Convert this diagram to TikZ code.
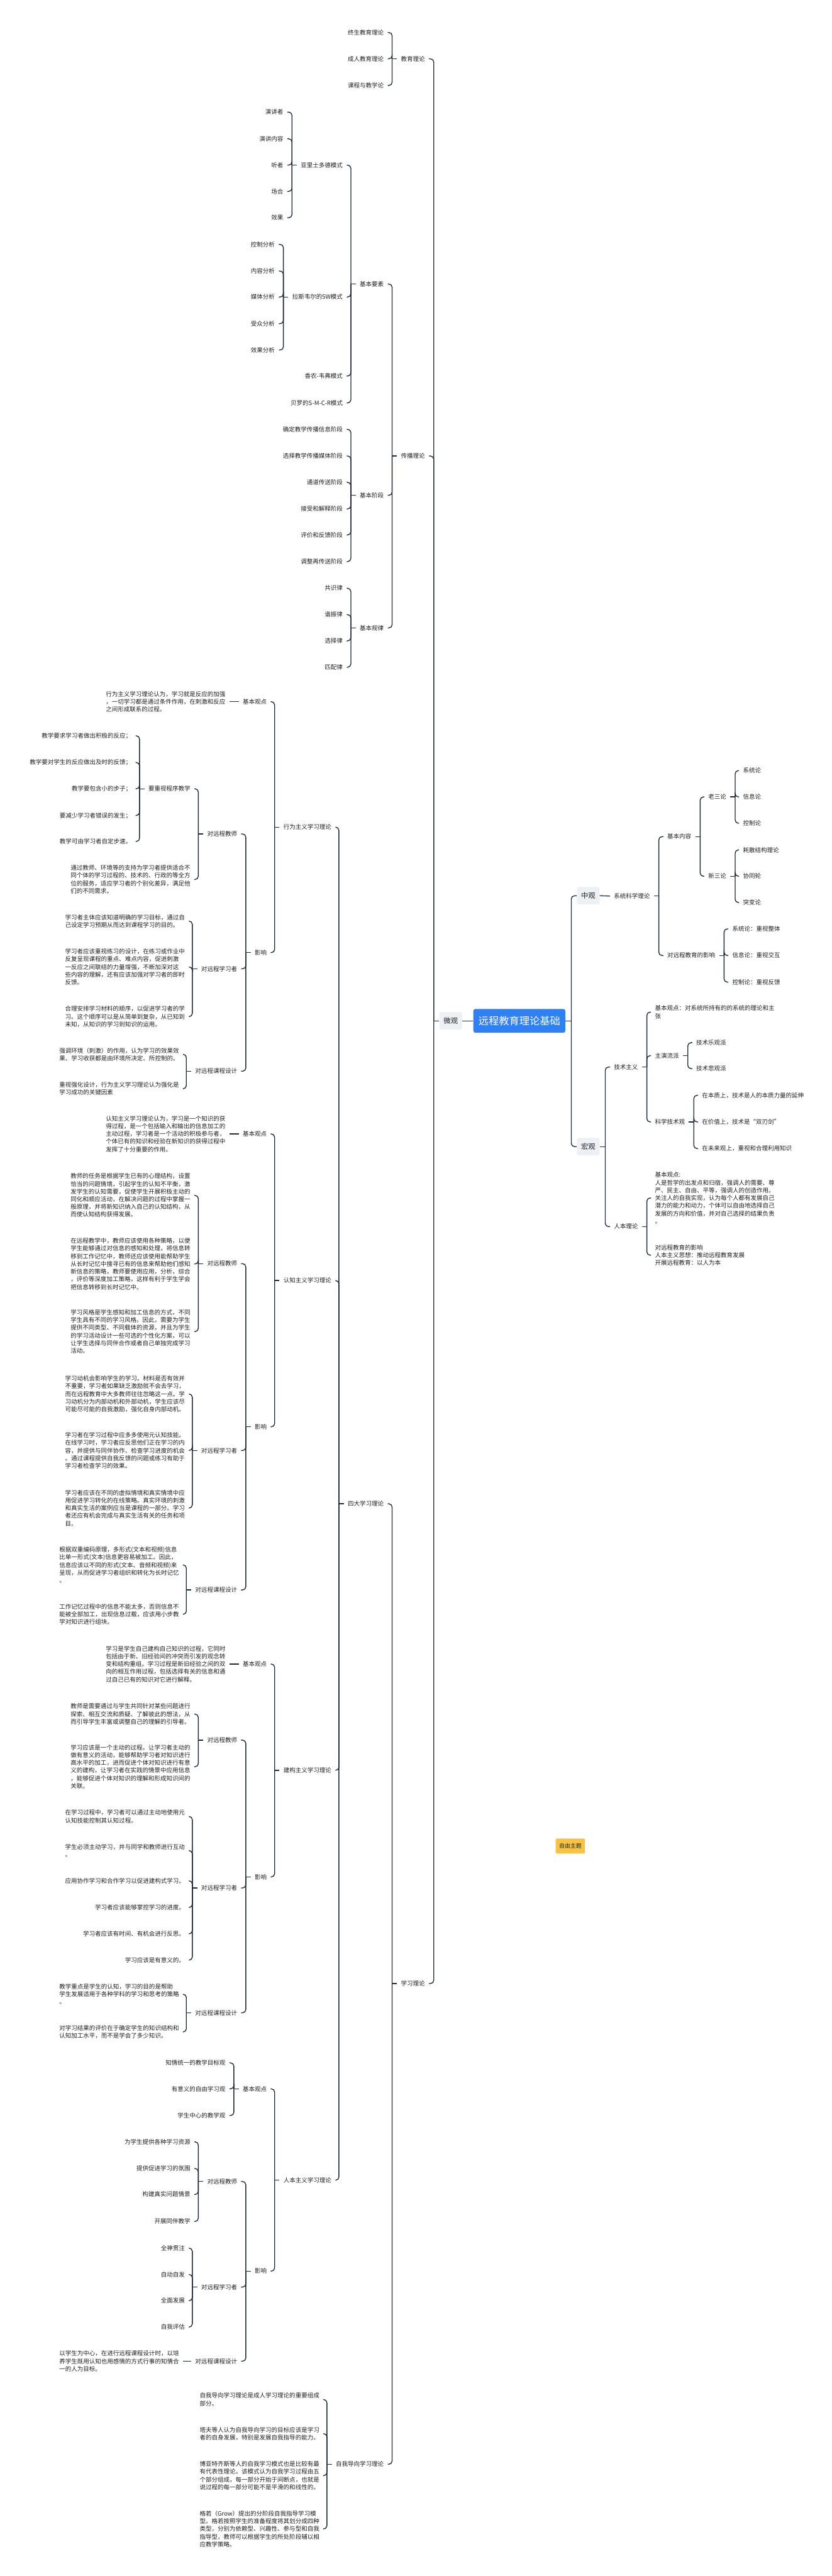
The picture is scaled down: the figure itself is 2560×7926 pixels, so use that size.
\documentclass[tikz,border=0pt]{standalone}
\usepackage{fontspec}
\setmainfont{Noto Sans CJK SC}
\usepackage{tikz}
\usetikzlibrary{positioning}
\definecolor{ink}{HTML}{1F1F1F}
\definecolor{linecol}{HTML}{1E2B3C}
\definecolor{boxgray}{HTML}{EDF0F4}
\definecolor{rootblue}{HTML}{2F80F5}
\definecolor{freeyellow}{HTML}{F6C343}

\begin{document}
\begin{tikzpicture}[x=0.5pt, y=-0.5pt]
\tikzstyle{txt} = [inner xsep=6pt, inner ysep=0pt, text=ink, font=\fontsize{9.2}{11.85}\selectfont]
\tikzstyle{leaf} = [txt, text height=8pt, text depth=1pt]
\tikzstyle{para} = [txt, align=left]
\tikzstyle{box} = [fill=boxgray, rounded corners=3pt, text=ink, font=\fontsize{11}{13}\selectfont, minimum width=35pt, minimum height=27pt, inner sep=0pt]
\tikzstyle{root} = [fill=rootblue, rounded corners=3pt, text=white, font=\fontsize{15.7}{18}\selectfont, minimum width=141.5pt, minimum height=36.5pt, inner sep=0pt]
\tikzstyle{free} = [fill=freeyellow, rounded corners=2pt, text=ink, font=\fontsize{8.6}{10}\selectfont, minimum width=45pt, minimum height=23pt, inner sep=0pt]
\tikzstyle{link} = [draw=linecol, line width=1.3pt, rounded corners=5pt]

\fill[white] (0,0) rectangle (2560,7926);

% centre
\node[root] (root) at (1598,3141) {远程教育理论基础};
\node[box] (mid) at (1387,3141) {微观};
\node[box] (zhong) at (1810,2756) {中观};
\node[box] (hong) at (1810,3528) {宏观};
\node[free] (ft) at (1755,5680) {自由主题};

% ---- left: 微观
\node[leaf, anchor=east] (jy) at (1320,181) {教育理论};
\node[leaf, anchor=east] (cb) at (1320,1403) {传播理论};
\node[leaf, anchor=east] (xl) at (1320,6103) {学习理论};

\node[leaf, anchor=east] (jy1) at (1193,100) {终生教育理论};
\node[leaf, anchor=east] (jy2) at (1193,181) {成人教育理论};
\node[leaf, anchor=east] (jy3) at (1193,263) {课程与教学论};

\node[leaf, anchor=east] (ys) at (1193,874) {基本要素};
\node[leaf, anchor=east] (jd) at (1193,1524) {基本阶段};
\node[leaf, anchor=east] (gl) at (1193,1932) {基本规律};

\node[leaf, anchor=east] (ys1) at (1067,508) {亚里士多德模式};
\node[leaf, anchor=east] (ys2) at (1067,914) {拉斯韦尔的5W模式};
\node[leaf, anchor=east] (ys3) at (1067,1157) {香农-韦弗模式};
\node[leaf, anchor=east] (ys4) at (1067,1240) {贝罗的S-M-C-R模式};

\node[leaf, anchor=east] (ar1) at (884,345) {演讲者};
\node[leaf, anchor=east] (ar2) at (884,427) {演讲内容};
\node[leaf, anchor=east] (ar3) at (884,508) {听者};
\node[leaf, anchor=east] (ar4) at (884,589) {场合};
\node[leaf, anchor=east] (ar5) at (884,670) {效果};

\node[leaf, anchor=east] (sw1) at (858,752) {控制分析};
\node[leaf, anchor=east] (sw2) at (858,834) {内容分析};
\node[leaf, anchor=east] (sw3) at (858,914) {媒体分析};
\node[leaf, anchor=east] (sw4) at (858,996) {受众分析};
\node[leaf, anchor=east] (sw5) at (858,1077) {效果分析};

\node[leaf, anchor=east] (jd1) at (1067,1321) {确定教学传播信息阶段};
\node[leaf, anchor=east] (jd2) at (1067,1403) {选择教学传播媒体阶段};
\node[leaf, anchor=east] (jd3) at (1067,1484) {通道传送阶段};
\node[leaf, anchor=east] (jd4) at (1067,1566) {接受和解释阶段};
\node[leaf, anchor=east] (jd5) at (1067,1646) {评价和反馈阶段};
\node[leaf, anchor=east] (jd6) at (1067,1728) {调整再传送阶段};

\node[leaf, anchor=east] (gl1) at (1067,1810) {共识律};
\node[leaf, anchor=east] (gl2) at (1067,1891) {谐振律};
\node[leaf, anchor=east] (gl3) at (1067,1972) {选择律};
\node[leaf, anchor=east] (gl4) at (1067,2053) {匹配律};

\node[leaf, anchor=east] (sd) at (1193,4627) {四大学习理论};
\node[leaf, anchor=east] (zw) at (1193,7582) {自我导向学习理论};

\node[leaf, anchor=east] (xw) at (1032,2545) {行为主义学习理论};
\node[leaf, anchor=east] (rz) at (1032,3940) {认知主义学习理论};
\node[leaf, anchor=east] (jg) at (1032,5447) {建构主义学习理论};
\node[leaf, anchor=east] (rb) at (1032,6708) {人本主义学习理论};

% 行为主义
\node[leaf, anchor=east] (xwj) at (833,2159) {基本观点};
\node[leaf, anchor=east] (xwy) at (833,2931) {影响};
\node[para, anchor=east] (xwj1) at (706,2159) {行为主义学习理论认为，学习就是反应的加强\\，一切学习都是通过条件作用，在刺激和反应\\之间形成联系的过程。};
\node[leaf, anchor=east] (xwt) at (742,2566) {对远程教师};
\node[leaf, anchor=east] (xwl) at (742,2981) {对远程学习者};
\node[leaf, anchor=east] (xwk) at (742,3296) {对远程课程设计};
\node[leaf, anchor=east] (xwt1) at (598,2427) {要重视程序教学};
\node[para, anchor=east] (xwt2) at (598,2706) {通过教师、环境等的支持为学习者提供适合不\\同个体的学习过程的、技术的、行政的等全方\\位的服务，适应学习者的个别化差异，满足他\\们的不同需求。};
\node[leaf, anchor=east] (xp1) at (417,2264) {教学要求学习者做出积极的反应；};
\node[leaf, anchor=east] (xp2) at (417,2346) {教学要对学生的反应做出及时的反馈；};
\node[leaf, anchor=east] (xp3) at (417,2427) {教学要包含小的步子；};
\node[leaf, anchor=east] (xp4) at (417,2509) {要减少学习者错误的发生；};
\node[leaf, anchor=east] (xp5) at (417,2589) {教学可由学习者自定步速。};
\node[para, anchor=east] (xwl1) at (581,2834) {学习者主体应该知道明确的学习目标，通过自\\己设定学习预期从而达到课程学习的目的。};
\node[para, anchor=east] (xwl2) at (581,2975) {学习者应该重视练习的设计，在练习或作业中\\反复呈现课程的重点、难点内容，促进刺激\\一反应之间联结的力量增强，不断加深对这\\些内容的理解，还有应该加强对学习者的即时\\反馈。};
\node[para, anchor=east] (xwl3) at (581,3128) {合理安排学习材料的顺序，以促进学习者的学\\习。这个顺序可以是从简单到复杂，从已知到\\未知，从知识的学习到知识的运用。};
\node[para, anchor=east] (xwk1) at (563,3244) {强调环境（刺激）的作用，认为学习的效果效\\果、学习收获都是由环境所决定、所控制的。};
\node[para, anchor=east] (xwk2) at (563,3350) {重视强化设计，行为主义学习理论认为强化是\\学习成功的关键因素};

% 认知主义
\node[leaf, anchor=east] (rzj) at (833,3489) {基本观点};
\node[leaf, anchor=east] (rzy) at (833,4390) {影响};
\node[para, anchor=east] (rzj1) at (706,3489) {认知主义学习理论认为，学习是一个知识的获\\得过程，是一个包括输入和输出的信息加工的\\主动过程，学习者是一个活动的积极参与者，\\个体已有的知识和经验在新知识的获得过程中\\发挥了十分重要的作用。};
\node[leaf, anchor=east] (rzt) at (742,3888) {对远程教师};
\node[leaf, anchor=east] (rzl) at (742,4463) {对远程学习者};
\node[leaf, anchor=east] (rzk) at (742,4892) {对远程课程设计};
\node[para, anchor=east] (rzt1) at (598,3678) {教师的任务是根据学生已有的心理结构，设置\\恰当的问题情境，引起学生的认知不平衡，激\\发学生的认知需要，促使学生开展积极主动的\\同化和顺应活动，在解决问题的过程中掌握一\\般原理，并将新知识纳入自己的认知结构，从\\而使认知结构获得发展。};
\node[para, anchor=east] (rzt2) at (598,3889) {在远程教学中，教师应该使用各种策略，以便\\学生能够通过对信息的感知和处理，将信息转\\移到工作记忆中，教师还应该使用能帮助学生\\从长时记忆中搜寻已有的信息来帮助他们感知\\新信息的策略，教师要使用应用，分析，综合\\，评价等深度加工策略，这样有利于学生学会\\把信息转移到长时记忆中。};
\node[para, anchor=east] (rzt3) at (598,4097) {学习风格是学生感知和加工信息的方式，不同\\学生具有不同的学习风格。因此，需要为学生\\提供不同类型、不同载体的资源，并且为学生\\的学习活动设计一些可选的个性化方案，可以\\让学生选择与同伴合作或者自己单独完成学习\\活动。};
\node[para, anchor=east] (rzl1) at (581,4289) {学习动机会影响学生的学习。材料是否有效并\\不重要，学习者如果缺乏激励就不会去学习，\\而在远程教育中大多教师往往忽略这一点。学\\习动机分为内部动机和外部动机，学生应该尽\\可能尽可能的自我激励，强化自身内部动机。};
\node[para, anchor=east] (rzl2) at (581,4463) {学习者在学习过程中应多多使用元认知技能。\\在线学习时，学习者应反思他们正在学习的内\\容，并提供与同伴协作、检查学习进度的机会\\。通过课程提供自我反馈的问题或练习有助于\\学习者检查学习的效果。};
\node[para, anchor=east] (rzl3) at (581,4640) {学习者应该在不同的虚拟情境和真实情境中应\\用促进学习转化的在线策略。真实环境的刺激\\和真实生活的案例应当是课程的一部分。学习\\者还应有机会完成与真实生活有关的任务和项\\目。};
\node[para, anchor=east] (rzk1) at (563,4815) {根据双重编码原理，多形式(文本和视频)信息\\比单一形式(文本)信息更容易被加工。因此，\\信息应该以不同的形式(文本、音频和视频)来\\呈现，从而促进学习者组织和转化为长时记忆\\。};
\node[para, anchor=east] (rzk2) at (563,4967) {工作记忆过程中的信息不能太多，否则信息不\\能被全部加工，出现信息过载，应该用小步教\\学对知识进行组块。};

% 建构主义
\node[leaf, anchor=east] (jgj) at (833,5120) {基本观点};
\node[leaf, anchor=east] (jgy) at (833,5775) {影响};
\node[para, anchor=east] (jgj1) at (706,5120) {学习是学生自己建构自己知识的过程，它同时\\包括由于新、旧经验间的冲突而引发的观念转\\变和结构重组。学习过程是新旧经验之间的双\\向的相互作用过程，包括选择有关的信息和通\\过自己已有的知识对它进行解释。};
\node[leaf, anchor=east] (jgt) at (742,5354) {对远程教师};
\node[leaf, anchor=east] (jgl) at (742,5809) {对远程学习者};
\node[leaf, anchor=east] (jgk) at (742,6193) {对远程课程设计};
\node[para, anchor=east] (jgt1) at (598,5274) {教师是需要通过与学生共同针对某些问题进行\\探索、相互交流和质疑、了解彼此的想法，从\\而引导学生丰富或调整自己的理解的引导者。};
\node[para, anchor=east] (jgt2) at (598,5436) {学习应该是一个主动的过程。让学习者主动的\\做有意义的活动，能够帮助学习者对知识进行\\高水平的加工，进而促进个体对知识进行有意\\义的建构，让学习者在实践的情景中应用信息\\，能够促进个体对知识的理解和形成知识间的\\关联。};
\node[para, anchor=east] (jgl1) at (581,5589) {在学习过程中，学习者可以通过主动地使用元\\认知技能控制其认知过程。};
\node[para, anchor=east] (jgl2) at (581,5694) {学生必须主动学习，并与同学和教师进行互动\\。};
\node[leaf, anchor=east] (jgl3) at (581,5787) {应用协作学习和合作学习以促进建构式学习。};
\node[leaf, anchor=east] (jgl4) at (581,5869) {学习者应该能够掌控学习的进度。};
\node[leaf, anchor=east] (jgl5) at (581,5950) {学习者应该有时间、有机会进行反思。};
\node[leaf, anchor=east] (jgl6) at (581,6031) {学习应该是有意义的。};
\node[para, anchor=east] (jgk1) at (563,6136) {教学重点是学生的认知，学习的目的是帮助\\学生发展适用于各种学科的学习和思考的策略\\。};
\node[para, anchor=east] (jgk2) at (563,6252) {对学习结果的评价在于确定学生的知识结构和\\认知加工水平，而不是学会了多少知识。};

% 人本主义
\node[leaf, anchor=east] (rbj) at (833,6427) {基本观点};
\node[leaf, anchor=east] (rby) at (833,6988) {影响};
\node[leaf, anchor=east] (rbj1) at (706,6347) {知情统一的教学目标观};
\node[leaf, anchor=east] (rbj2) at (706,6427) {有意义的自由学习观};
\node[leaf, anchor=east] (rbj3) at (706,6509) {学生中心的教学观};
\node[leaf, anchor=east] (rbt) at (742,6712) {对远程教师};
\node[leaf, anchor=east] (rbl) at (742,7037) {对远程学习者};
\node[leaf, anchor=east] (rbk) at (742,7265) {对远程课程设计};
\node[leaf, anchor=east] (rbt1) at (598,6590) {为学生提供各种学习资源};
\node[leaf, anchor=east] (rbt2) at (598,6672) {提供促进学习的氛围};
\node[leaf, anchor=east] (rbt3) at (598,6752) {构建真实问题情景};
\node[leaf, anchor=east] (rbt4) at (598,6835) {开展同伴教学};
\node[leaf, anchor=east] (rbl1) at (581,6917) {全神贯注};
\node[leaf, anchor=east] (rbl2) at (581,6998) {自动自发};
\node[leaf, anchor=east] (rbl3) at (581,7079) {全面发展};
\node[leaf, anchor=east] (rbl4) at (581,7160) {自我评估};
\node[para, anchor=east] (rbk1) at (563,7265) {以学生为中心，在进行远程课程设计时，以培\\养学生既用认知也用感情的方式行事的知情合\\一的人为目标。};

% 自我导向
\node[para, anchor=east] (zw1) at (995,7383) {自我导向学习理论是成人学习理论的重要组成\\部分。};
\node[para, anchor=east] (zw2) at (995,7488) {塔夫等人认为自我导向学习的目标应该是学习\\者的自身发展，特别是发展自我指导的能力。};
\node[para, anchor=east] (zw3) at (995,7617) {博亚特齐斯等人的自我学习模式也是比较有最\\有代表性理论。该模式认为自我学习过程由五\\个部分组成，每一部分开始于间断点，也就是\\说过程的每一部分可能不是平滑的和线性的。};
\node[para, anchor=east] (zw4) at (995,7781) {格若（Grow）提出的分阶段自我指导学习模\\型。格若按照学生的准备程度将其划分成四种\\类型，分别为依赖型、兴趣性、参与型和自我\\指导型，教师可以根据学生的所处阶段辅以相\\应教学策略。};

% ---- right: 中观 / 宏观
\node[leaf, anchor=west] (xk) at (1877,2757) {系统科学理论};
\node[leaf, anchor=west] (jn) at (2041,2574) {基本内容};
\node[leaf, anchor=west] (yx) at (2041,2940) {对远程教育的影响};
\node[leaf, anchor=west] (lsl) at (2167,2452) {老三论};
\node[leaf, anchor=west] (xsl) at (2167,2696) {新三论};
\node[leaf, anchor=west] (ls1) at (2274,2371) {系统论};
\node[leaf, anchor=west] (ls2) at (2274,2452) {信息论};
\node[leaf, anchor=west] (ls3) at (2274,2533) {控制论};
\node[leaf, anchor=west] (xs1) at (2274,2615) {耗散结构理论};
\node[leaf, anchor=west] (xs2) at (2274,2696) {协同轮};
\node[leaf, anchor=west] (xs3) at (2274,2777) {突变论};
\node[leaf, anchor=west] (yx1) at (2241,2858) {系统论：重视整体};
\node[leaf, anchor=west] (yx2) at (2241,2940) {信息论：重视交互};
\node[leaf, anchor=west] (yx3) at (2241,3022) {控制论：重视反馈};

\node[leaf, anchor=west] (js) at (1877,3283) {技术主义};
\node[para, anchor=west] (js1) at (2003,3114) {基本观点：对系统所持有的的系统的理论和主\\张};
\node[leaf, anchor=west] (js2) at (2003,3248) {主演流派};
\node[leaf, anchor=west] (js3) at (2003,3452) {科学技术观};
\node[leaf, anchor=west] (zy1) at (2130,3208) {技术乐观派};
\node[leaf, anchor=west] (zy2) at (2130,3288) {技术悲观派};
\node[leaf, anchor=west] (kx1) at (2148,3370) {在本质上，技术是人的本质力量的延伸};
\node[leaf, anchor=west] (kx2) at (2148,3452) {在价值上，技术是“双刃剑”};
\node[leaf, anchor=west] (kx3) at (2148,3534) {在未来观上，重视和合理利用知识};

\node[leaf, anchor=west] (rl) at (1877,3774) {人本理论};
\node[para, anchor=west] (rl1) at (2003,3686) {基本观点:\\人是哲学的出发点和归宿，强调人的需要、尊\\严、民主、自由、平等，强调人的创造作用。\\关注人的自我实现，认为每个人都有发展自己\\潜力的能力和动力，个体可以自由地选择自己\\发展的方向和价值，并对自己选择的结果负责\\。};
\node[para, anchor=west] (rl2) at (2003,3862) {对远程教育的影响\\人本主义思想：推动远程教育发展\\开展远程教育：以人为本};

% ---- connectors
\draw[link] (mid.east) -- (root.west);
\draw[link] (mid.west) -- ++(-17,0) coordinate (midb);
\draw[link] (midb) |- (jy.east);
\draw[link] (midb) |- (cb.east);
\draw[link] (midb) |- (xl.east);

\draw[link] (jy.west) -- ++(-15,0) coordinate (jyb);
\draw[link] (jyb) |- (jy1.east);
\draw[link] (jyb) |- (jy2.east);
\draw[link] (jyb) |- (jy3.east);

\draw[link] (cb.west) -- ++(-15,0) coordinate (cbb);
\draw[link] (cbb) |- (ys.east);
\draw[link] (cbb) |- (jd.east);
\draw[link] (cbb) |- (gl.east);

\draw[link] (ys.west) -- ++(-15,0) coordinate (ysb);
\draw[link] (ysb) |- (ys1.east);
\draw[link] (ysb) |- (ys2.east);
\draw[link] (ysb) |- (ys3.east);
\draw[link] (ysb) |- (ys4.east);

\draw[link] (ys1.west) -- ++(-15,0) coordinate (ys1b);
\draw[link] (ys1b) |- (ar1.east);
\draw[link] (ys1b) |- (ar2.east);
\draw[link] (ys1b) |- (ar3.east);
\draw[link] (ys1b) |- (ar4.east);
\draw[link] (ys1b) |- (ar5.east);

\draw[link] (ys2.west) -- ++(-15,0) coordinate (ys2b);
\draw[link] (ys2b) |- (sw1.east);
\draw[link] (ys2b) |- (sw2.east);
\draw[link] (ys2b) |- (sw3.east);
\draw[link] (ys2b) |- (sw4.east);
\draw[link] (ys2b) |- (sw5.east);

\draw[link] (jd.west) -- ++(-15,0) coordinate (jdb);
\draw[link] (jdb) |- (jd1.east);
\draw[link] (jdb) |- (jd2.east);
\draw[link] (jdb) |- (jd3.east);
\draw[link] (jdb) |- (jd4.east);
\draw[link] (jdb) |- (jd5.east);
\draw[link] (jdb) |- (jd6.east);

\draw[link] (gl.west) -- ++(-15,0) coordinate (glb);
\draw[link] (glb) |- (gl1.east);
\draw[link] (glb) |- (gl2.east);
\draw[link] (glb) |- (gl3.east);
\draw[link] (glb) |- (gl4.east);

\draw[link] (xl.west) -- ++(-15,0) coordinate (xlb);
\draw[link] (xlb) |- (sd.east);
\draw[link] (xlb) |- (zw.east);

\draw[link] (sd.west) -- ++(-15,0) coordinate (sdb);
\draw[link] (sdb) |- (xw.east);
\draw[link] (sdb) |- (rz.east);
\draw[link] (sdb) |- (jg.east);
\draw[link] (sdb) |- (rb.east);

\draw[link] (zw.west) -- ++(-15,0) coordinate (zwb);
\draw[link] (zwb) |- (zw1.east);
\draw[link] (zwb) |- (zw2.east);
\draw[link] (zwb) |- (zw3.east);
\draw[link] (zwb) |- (zw4.east);

% 行为主义
\draw[link] (xw.west) -- ++(-15,0) coordinate (xwb);
\draw[link] (xwb) |- (xwj.east);
\draw[link] (xwb) |- (xwy.east);
\draw[link] (xwj.west) -- (xwj1.east);
\draw[link] (xwy.west) -- ++(-15,0) coordinate (xwyb);
\draw[link] (xwyb) |- (xwt.east);
\draw[link] (xwyb) |- (xwl.east);
\draw[link] (xwyb) |- (xwk.east);
\draw[link] (xwt.west) -- ++(-15,0) coordinate (xwtb);
\draw[link] (xwtb) |- (xwt1.east);
\draw[link] (xwtb) |- (xwt2.east);
\draw[link] (xwt1.west) -- ++(-15,0) coordinate (xwt1b);
\draw[link] (xwt1b) |- (xp1.east);
\draw[link] (xwt1b) |- (xp2.east);
\draw[link] (xwt1b) |- (xp3.east);
\draw[link] (xwt1b) |- (xp4.east);
\draw[link] (xwt1b) |- (xp5.east);
\draw[link] (xwl.west) -- ++(-15,0) coordinate (xwlb);
\draw[link] (xwlb) |- (xwl1.east);
\draw[link] (xwlb) |- (xwl2.east);
\draw[link] (xwlb) |- (xwl3.east);
\draw[link] (xwk.west) -- ++(-15,0) coordinate (xwkb);
\draw[link] (xwkb) |- (xwk1.east);
\draw[link] (xwkb) |- (xwk2.east);

% 认知主义
\draw[link] (rz.west) -- ++(-15,0) coordinate (rzb);
\draw[link] (rzb) |- (rzj.east);
\draw[link] (rzb) |- (rzy.east);
\draw[link] (rzj.west) -- (rzj1.east);
\draw[link] (rzy.west) -- ++(-15,0) coordinate (rzyb);
\draw[link] (rzyb) |- (rzt.east);
\draw[link] (rzyb) |- (rzl.east);
\draw[link] (rzyb) |- (rzk.east);
\draw[link] (rzt.west) -- ++(-15,0) coordinate (rztb);
\draw[link] (rztb) |- (rzt1.east);
\draw[link] (rztb) |- (rzt2.east);
\draw[link] (rztb) |- (rzt3.east);
\draw[link] (rzl.west) -- ++(-15,0) coordinate (rzlb);
\draw[link] (rzlb) |- (rzl1.east);
\draw[link] (rzlb) |- (rzl2.east);
\draw[link] (rzlb) |- (rzl3.east);
\draw[link] (rzk.west) -- ++(-15,0) coordinate (rzkb);
\draw[link] (rzkb) |- (rzk1.east);
\draw[link] (rzkb) |- (rzk2.east);

% 建构主义
\draw[link] (jg.west) -- ++(-15,0) coordinate (jgb);
\draw[link] (jgb) |- (jgj.east);
\draw[link] (jgb) |- (jgy.east);
\draw[link] (jgj.west) -- (jgj1.east);
\draw[link] (jgy.west) -- ++(-15,0) coordinate (jgyb);
\draw[link] (jgyb) |- (jgt.east);
\draw[link] (jgyb) |- (jgl.east);
\draw[link] (jgyb) |- (jgk.east);
\draw[link] (jgt.west) -- ++(-15,0) coordinate (jgtb);
\draw[link] (jgtb) |- (jgt1.east);
\draw[link] (jgtb) |- (jgt2.east);
\draw[link] (jgl.west) -- ++(-15,0) coordinate (jglb);
\draw[link] (jglb) |- (jgl1.east);
\draw[link] (jglb) |- (jgl2.east);
\draw[link] (jglb) |- (jgl3.east);
\draw[link] (jglb) |- (jgl4.east);
\draw[link] (jglb) |- (jgl5.east);
\draw[link] (jglb) |- (jgl6.east);
\draw[link] (jgk.west) -- ++(-15,0) coordinate (jgkb);
\draw[link] (jgkb) |- (jgk1.east);
\draw[link] (jgkb) |- (jgk2.east);

% 人本主义
\draw[link] (rb.west) -- ++(-15,0) coordinate (rbb);
\draw[link] (rbb) |- (rbj.east);
\draw[link] (rbb) |- (rby.east);
\draw[link] (rbj.west) -- ++(-15,0) coordinate (rbjb);
\draw[link] (rbjb) |- (rbj1.east);
\draw[link] (rbjb) |- (rbj2.east);
\draw[link] (rbjb) |- (rbj3.east);
\draw[link] (rby.west) -- ++(-15,0) coordinate (rbyb);
\draw[link] (rbyb) |- (rbt.east);
\draw[link] (rbyb) |- (rbl.east);
\draw[link] (rbyb) |- (rbk.east);
\draw[link] (rbt.west) -- ++(-15,0) coordinate (rbtb);
\draw[link] (rbtb) |- (rbt1.east);
\draw[link] (rbtb) |- (rbt2.east);
\draw[link] (rbtb) |- (rbt3.east);
\draw[link] (rbtb) |- (rbt4.east);
\draw[link] (rbl.west) -- ++(-15,0) coordinate (rblb);
\draw[link] (rblb) |- (rbl1.east);
\draw[link] (rblb) |- (rbl2.east);
\draw[link] (rblb) |- (rbl3.east);
\draw[link] (rblb) |- (rbl4.east);
\draw[link] (rbk.west) -- (rbk1.east);

% right side
\draw[link] (root.east) -- ++(18,0) coordinate (rootb);
\draw[link] (rootb) |- (zhong.west);
\draw[link] (rootb) |- (hong.west);
\draw[link] (zhong.east) -- (xk.west);
\draw[link] (xk.east) -- ++(15,0) coordinate (xkb);
\draw[link] (xkb) |- (jn.west);
\draw[link] (xkb) |- (yx.west);
\draw[link] (jn.east) -- ++(15,0) coordinate (jnb);
\draw[link] (jnb) |- (lsl.west);
\draw[link] (jnb) |- (xsl.west);
\draw[link] (lsl.east) -- ++(15,0) coordinate (lslb);
\draw[link] (lslb) |- (ls1.west);
\draw[link] (lslb) |- (ls2.west);
\draw[link] (lslb) |- (ls3.west);
\draw[link] (xsl.east) -- ++(15,0) coordinate (xslb);
\draw[link] (xslb) |- (xs1.west);
\draw[link] (xslb) |- (xs2.west);
\draw[link] (xslb) |- (xs3.west);
\draw[link] (yx.east) -- ++(15,0) coordinate (yxb);
\draw[link] (yxb) |- (yx1.west);
\draw[link] (yxb) |- (yx2.west);
\draw[link] (yxb) |- (yx3.west);

\draw[link] (hong.east) -- ++(17,0) coordinate (hongb);
\draw[link] (hongb) |- (js.west);
\draw[link] (hongb) |- (rl.west);
\draw[link] (js.east) -- ++(15,0) coordinate (jsb);
\draw[link] (jsb) |- (js1.west);
\draw[link] (jsb) |- (js2.west);
\draw[link] (jsb) |- (js3.west);
\draw[link] (js2.east) -- ++(15,0) coordinate (js2b);
\draw[link] (js2b) |- (zy1.west);
\draw[link] (js2b) |- (zy2.west);
\draw[link] (js3.east) -- ++(15,0) coordinate (js3b);
\draw[link] (js3b) |- (kx1.west);
\draw[link] (js3b) |- (kx2.west);
\draw[link] (js3b) |- (kx3.west);
\draw[link] (rl.east) -- ++(15,0) coordinate (rlb);
\draw[link] (rlb) |- (rl1.west);
\draw[link] (rlb) |- (rl2.west);

\end{tikzpicture}
\end{document}
